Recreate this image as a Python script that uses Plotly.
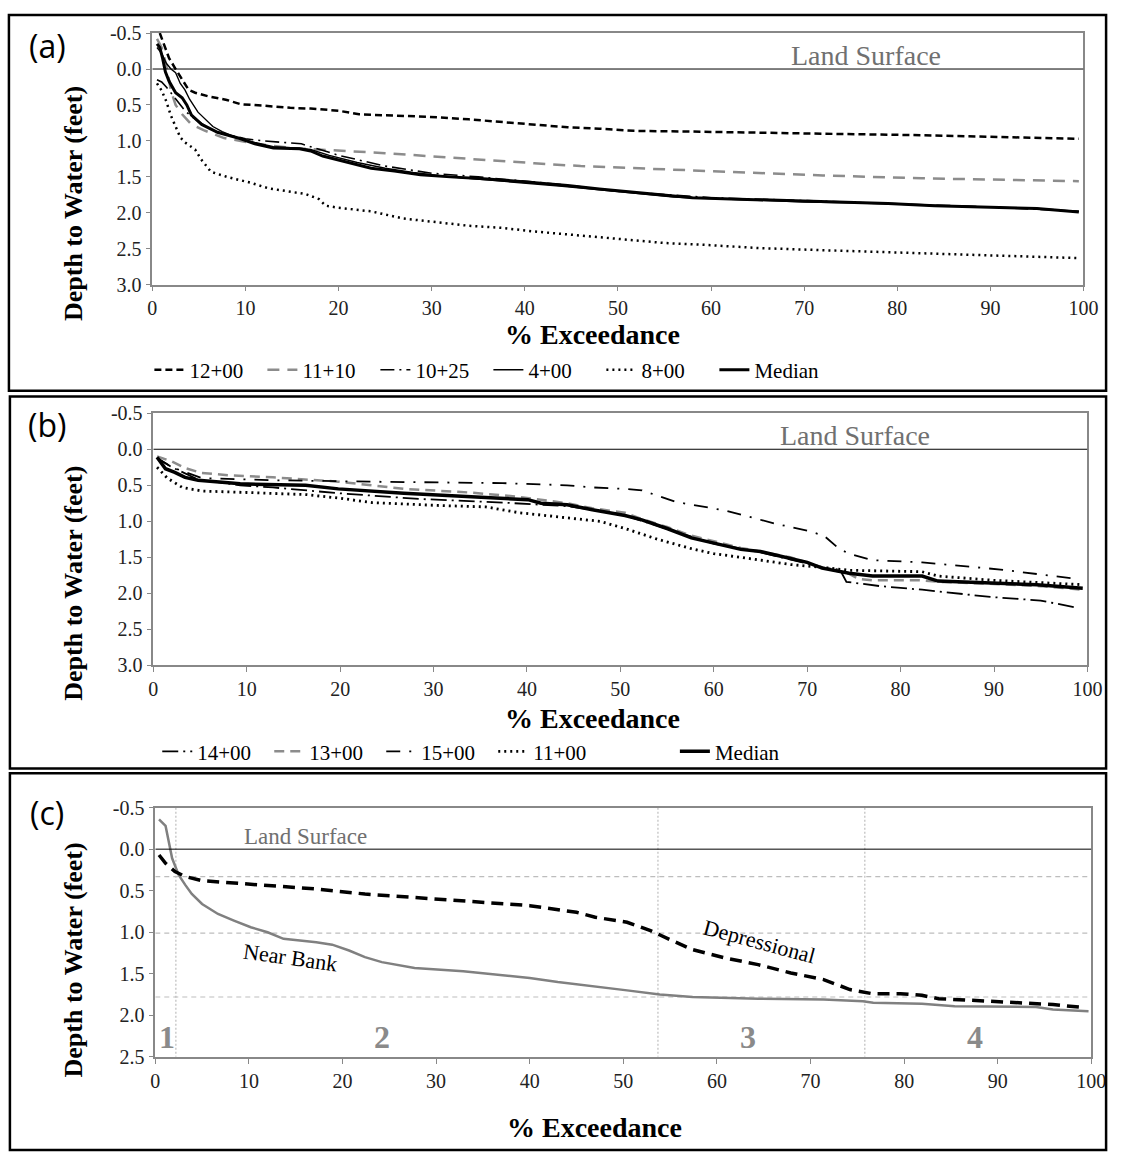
import plotly.graph_objects as go

W, H = 1126, 1162
def px(x): return x / W
def py(y): return 1 - y / H

# ---------------- Panel (a) data ----------------
a_12_00_x = [0.8, 1.2, 1.8, 2.5, 3.2, 3.9, 4.6, 6.0, 8.0, 9.5, 12, 14.8, 17, 20, 22.2, 26, 30.6, 34, 37.6, 41, 44.6, 48, 51.7, 58, 65, 72, 82.6, 90, 95, 99.5]
a_12_00_y = [-0.5, -0.35, -0.15, 0.0, 0.15, 0.29, 0.33, 0.38, 0.43, 0.49, 0.51, 0.54, 0.55, 0.58, 0.63, 0.65, 0.67, 0.70, 0.74, 0.78, 0.81, 0.83, 0.86, 0.87, 0.88, 0.90, 0.92, 0.94, 0.95, 0.97]

a_11_10_x = [0.5, 1.0, 1.5, 2.0, 2.5, 3.2, 4.2, 5.5, 7.7, 9, 11.2, 15, 20, 25, 30.6, 36, 41, 46, 51.7, 58, 65, 72, 82.6, 90, 99.5]
a_11_10_y = [-0.42, -0.3, -0.05, 0.3, 0.5, 0.63, 0.77, 0.85, 0.96, 0.99, 1.04, 1.1, 1.13, 1.17, 1.22, 1.27, 1.31, 1.35, 1.38, 1.41, 1.45, 1.48, 1.52, 1.54, 1.56]

a_10_25_x = [0.5, 1.0, 1.5, 2.0, 2.5, 3.0, 3.5, 4.2, 5, 6, 7, 8.5, 10, 12, 14, 16, 18, 20, 25, 30, 35, 40, 45, 50, 55, 60, 70, 80, 90, 99.5]
a_10_25_y = [0.15, 0.18, 0.25, 0.33, 0.42, 0.5, 0.58, 0.66, 0.73, 0.82, 0.88, 0.93, 0.97, 1.0, 1.02, 1.04, 1.12, 1.2, 1.35, 1.45, 1.5, 1.56, 1.62, 1.7, 1.75, 1.79, 1.83, 1.87, 1.92, 1.98]

a_4_00_x = [0.5, 1.0, 1.5, 2.0, 2.5, 3.0, 3.5, 4.0, 4.9, 5.5, 6.5, 7.5, 9, 11, 13, 15.8, 17, 19, 22, 25, 28, 32, 36, 40, 44, 48, 52, 56, 60, 65, 70, 75, 80, 85, 90, 95, 99.5]
a_4_00_y = [-0.3, -0.22, -0.08, 0.0, 0.05, 0.2, 0.29, 0.42, 0.6, 0.68, 0.8, 0.87, 0.95, 1.02, 1.08, 1.1, 1.12, 1.2, 1.3, 1.38, 1.44, 1.5, 1.54, 1.58, 1.63, 1.68, 1.73, 1.78, 1.8, 1.83, 1.85, 1.86, 1.88, 1.9, 1.92, 1.94, 1.98]

a_8_00_x = [0.5, 1.0, 1.5, 2.0, 2.5, 3.0, 3.5, 4.6, 5.2, 6.3, 8, 10.5, 12.5, 14.8, 16.5, 17.9, 18.6, 20, 23.5, 27, 30.6, 34, 37.6, 41, 44.6, 48, 51, 55, 60, 65, 72, 82.6, 90, 99.5]
a_8_00_y = [0.2, 0.3, 0.45, 0.65, 0.8, 0.95, 1.02, 1.12, 1.25, 1.43, 1.5, 1.58, 1.66, 1.7, 1.74, 1.81, 1.9, 1.93, 1.98, 2.08, 2.13, 2.18, 2.21, 2.26, 2.3, 2.34, 2.38, 2.42, 2.45, 2.49, 2.52, 2.56, 2.59, 2.63]

a_med_x = [0.5, 0.8, 1.1, 1.4, 1.8, 2.5, 3.2, 3.7, 4.2, 5.3, 7, 9.5, 11, 13, 15.8, 17, 18.3, 21, 23.5, 26, 28.8, 32, 36, 41.1, 44.6, 48, 52, 55, 58, 63, 68.6, 74, 79, 84, 89.7, 95, 99.5]
a_med_y = [-0.35, -0.3, -0.15, 0.04, 0.17, 0.33, 0.4, 0.5, 0.64, 0.77, 0.88, 0.97, 1.04, 1.1, 1.11, 1.14, 1.21, 1.3, 1.38, 1.42, 1.47, 1.5, 1.53, 1.58, 1.62, 1.67, 1.72, 1.75, 1.79, 1.81, 1.83, 1.85, 1.87, 1.9, 1.92, 1.94, 1.99]

# ---------------- Panel (b) data ----------------
b_14_00_x = [0.4, 2, 4.8, 9.3, 12.8, 19.8, 28.5, 37.4, 44.3, 47, 50.5, 55, 60, 65, 70, 72, 73.5, 74.2, 77.8, 82.3, 89.6, 95, 98.9]
b_14_00_y = [0.12, 0.25, 0.42, 0.5, 0.53, 0.61, 0.69, 0.74, 0.79, 0.84, 0.92, 1.1, 1.31, 1.43, 1.58, 1.65, 1.67, 1.84, 1.9, 1.95, 2.05, 2.1, 2.2]

b_13_00_x = [0.4, 2, 3.4, 5.2, 8, 12.8, 19.8, 23, 26.8, 33.8, 39.1, 44.3, 47, 50.5, 52.3, 55, 57.6, 62.9, 68.2, 71.6, 74.5, 75.5, 77, 82.3, 84, 90, 95, 99.5]
b_13_00_y = [0.1, 0.17, 0.26, 0.33, 0.36, 0.39, 0.45, 0.5, 0.55, 0.6, 0.66, 0.75, 0.82, 0.88, 0.97, 1.08, 1.2, 1.37, 1.5, 1.64, 1.73, 1.8, 1.82, 1.82, 1.84, 1.87, 1.9, 1.95]

b_15_00_x = [0.4, 2, 5.2, 12.8, 23.4, 30.4, 37.4, 44.3, 47, 50.5, 52.3, 55.9, 61.2, 66.5, 70, 71.8, 73.4, 74.5, 77, 82.3, 90.7, 98.9]
b_15_00_y = [0.12, 0.25, 0.4, 0.43, 0.45, 0.46, 0.47, 0.5, 0.53, 0.55, 0.57, 0.73, 0.85, 1.03, 1.13, 1.2, 1.38, 1.45, 1.54, 1.57, 1.67, 1.8]

b_11_00_x = [0.4, 1.5, 3.1, 5.2, 10, 16.4, 20, 23.4, 30.4, 35.6, 39.1, 44.3, 47.8, 50.5, 54, 57.6, 60, 62.9, 68.2, 72.4, 74.5, 82.3, 84, 90, 95, 99.5]
b_11_00_y = [0.25, 0.4, 0.53, 0.58, 0.6, 0.63, 0.68, 0.74, 0.78, 0.8, 0.88, 0.95, 1.0, 1.1, 1.25, 1.38, 1.45, 1.5, 1.6, 1.65, 1.68, 1.7, 1.76, 1.82, 1.85, 1.88]

b_med_x = [0.4, 0.8, 1.3, 2.3, 3.4, 4.8, 9.3, 16.3, 19.8, 26.8, 33.8, 40.1, 41.5, 44.3, 47, 50.5, 52.3, 55, 57.6, 60, 62.9, 65, 68.2, 70, 71.6, 74.5, 77, 82.3, 84, 90, 94.6, 99.5]
b_med_y = [0.11, 0.18, 0.27, 0.32, 0.39, 0.43, 0.48, 0.5, 0.55, 0.61, 0.66, 0.7, 0.75, 0.77, 0.84, 0.92, 0.98, 1.1, 1.23, 1.3, 1.39, 1.42, 1.51, 1.57, 1.65, 1.72, 1.76, 1.76, 1.83, 1.86, 1.88, 1.93]

# ---------------- Panel (c) data ----------------
c_near_x = [0.4, 1.1, 1.8, 2.5, 3.2, 3.9, 5, 6.7, 8.4, 10.2, 12, 13.7, 17.2, 18.9, 20.7, 22.4, 24.2, 25.9, 27.7, 32.9, 36.4, 40, 43, 47, 50.4, 53.9, 57.4, 64.4, 71.4, 75.6, 76.7, 81.9, 85.4, 94.1, 95.9, 99.7]
c_near_y = [-0.36, -0.28, 0.11, 0.31, 0.43, 0.54, 0.66, 0.78, 0.86, 0.94, 1.0, 1.08, 1.12, 1.15, 1.22, 1.3, 1.36, 1.39, 1.43, 1.47, 1.51, 1.55, 1.6, 1.65, 1.7, 1.75, 1.78, 1.8, 1.81, 1.83, 1.85, 1.86, 1.89, 1.9, 1.93, 1.95]

c_dep_x = [0.4, 1.1, 2.1, 3.2, 5, 12, 17.2, 22.4, 30, 40, 45, 47, 50.4, 52.9, 55, 57.4, 60.9, 64.4, 67.9, 71.4, 74.2, 76.6, 79.6, 81.9, 83.7, 87.2, 92.4, 95.9, 99.4]
c_dep_y = [0.07, 0.17, 0.27, 0.33, 0.38, 0.44, 0.48, 0.54, 0.6, 0.68, 0.76, 0.82, 0.88, 0.98, 1.09, 1.21, 1.31, 1.39, 1.49, 1.57, 1.69, 1.74, 1.74, 1.76, 1.8, 1.82, 1.84, 1.87, 1.91]

c_thresh_y = [0.33, 1.01, 1.78]
c_thresh_x = [2.2, 53.7, 75.8]
c_zone_labels = ["1", "2", "3", "4"]
c_zone_x = [1.2, 24.2, 63.3, 87.6]
c_zone_y = 2.26

x_ticks = [0, 10, 20, 30, 40, 50, 60, 70, 80, 90, 100]
y_ticks_ab = [-0.5, 0.0, 0.5, 1.0, 1.5, 2.0, 2.5, 3.0]
y_ticks_ab_text = ["-0.5", "0.0", "0.5", "1.0", "1.5", "2.0", "2.5", "3.0"]
y_ticks_c = [-0.5, 0.0, 0.5, 1.0, 1.5, 2.0, 2.5]
y_ticks_c_text = ["-0.5", "0.0", "0.5", "1.0", "1.5", "2.0", "2.5"]

SERIF = "Liberation Serif"
BLACK = "#000000"
GRAY = "#8c8c8c"

fig = go.Figure()

def add(x, y, name, color, width, dash, xa, ya, legend=None, show=True):
    fig.add_trace(go.Scatter(
        x=x, y=y, name=name, mode="lines",
        line=dict(color=color, width=width, dash=dash),
        xaxis=xa, yaxis=ya, legend=legend, showlegend=show))

add(a_12_00_x, a_12_00_y, "12+00", BLACK, 2.5, "7px,4px", "x", "y", "legend")
add(a_11_10_x, a_11_10_y, "11+10", GRAY, 2.5, "12px,8px", "x", "y", "legend")
add(a_10_25_x, a_10_25_y, "10+25", BLACK, 1.6, "14px,5px,2px,5px", "x", "y", "legend")
add(a_4_00_x, a_4_00_y, "4+00", BLACK, 1.4, "solid", "x", "y", "legend")
add(a_8_00_x, a_8_00_y, "8+00", BLACK, 2.5, "2px,4px", "x", "y", "legend")
add(a_med_x, a_med_y, "Median", BLACK, 3, "solid", "x", "y", "legend")

add(b_14_00_x, b_14_00_y, "14+00", BLACK, 1.8, "16px,5px,2px,5px", "x2", "y2", "legend2")
add(b_13_00_x, b_13_00_y, "13+00", GRAY, 2.5, "10px,6px", "x2", "y2", "legend2")
add(b_15_00_x, b_15_00_y, "15+00", BLACK, 1.8, "14px,9px,2px,9px", "x2", "y2", "legend2")
add(b_11_00_x, b_11_00_y, "11+00", BLACK, 2.8, "2px,4px", "x2", "y2", "legend2")
add(b_med_x, b_med_y, "Median", BLACK, 3.5, "solid", "x2", "y2", "legend3")

add(c_near_x, c_near_y, "Near Bank", "#808080", 2.5, "solid", "x3", "y3", show=False)
add(c_dep_x, c_dep_y, "Depressional", BLACK, 3.5, "12px,7px", "x3", "y3", show=False)

axis_common = dict(showline=True, linecolor="#888888", linewidth=1.5, mirror=True,
                   ticks="outside", ticklen=5, tickcolor="#888888", showgrid=False,
                   zeroline=False, tickfont=dict(family=SERIF, size=20, color="#222222"))

xa_dom = [px(150), px(1098)]
xb_dom = [px(151), px(1102)]
xc_dom = [px(153), px(1106)]
ya_dom = [py(279), py(22.5)]
yb_dom = [py(667), py(410)]
yc_dom = [py(1066), py(812)]

leg_common = dict(orientation="h", xanchor="left", yanchor="middle",
                  font=dict(family=SERIF, size=21, color="#000"), bgcolor="rgba(0,0,0,0)",
                  entrywidthmode="pixels", itemwidth=30, tracegroupgap=0)

fig.update_layout(
    width=W, height=H, margin=dict(l=0, r=0, t=0, b=0),
    paper_bgcolor="white", plot_bgcolor="white",
    xaxis=dict(domain=xa_dom, anchor="y", range=[0, 100], tickvals=x_ticks, **axis_common),
    yaxis=dict(domain=ya_dom, anchor="x", range=[3.0, -0.5], tickvals=y_ticks_ab, ticktext=y_ticks_ab_text, **axis_common),
    xaxis2=dict(domain=xb_dom, anchor="y2", range=[0, 100], tickvals=x_ticks, **axis_common),
    yaxis2=dict(domain=yb_dom, anchor="x2", range=[3.0, -0.5], tickvals=y_ticks_ab, ticktext=y_ticks_ab_text, **axis_common),
    xaxis3=dict(domain=xc_dom, anchor="y3", range=[0, 100], tickvals=x_ticks, **axis_common),
    yaxis3=dict(domain=yc_dom, anchor="x3", range=[2.5, -0.5], tickvals=y_ticks_c, ticktext=y_ticks_c_text, **axis_common),
    legend=dict(x=px(147), y=py(366), entrywidth=68, **leg_common),
    legend2=dict(x=px(155), y=py(755), entrywidth=67, **leg_common),
    legend3=dict(x=px(682), y=py(755), entrywidth=67, **leg_common),
    showlegend=True,
)

shapes = []
for xr, yr in (("x", "y"), ("x2", "y2"), ("x3", "y3")):
    shapes.append(dict(type="line", xref=xr, yref=yr, x0=0, x1=100, y0=0, y1=0,
                       line=dict(color="black", width=1), layer="above"))
for ty in c_thresh_y:
    shapes.append(dict(type="line", xref="x3", yref="y3", x0=0, x1=100, y0=ty, y1=ty,
                       line=dict(color="#bdbdbd", width=1.2, dash="5px,4px"), layer="below"))
for tx in c_thresh_x:
    shapes.append(dict(type="line", xref="x3", yref="y3", x0=tx, x1=tx, y0=-0.5, y1=2.5,
                       line=dict(color="#bdbdbd", width=1.2, dash="2px,2px"), layer="below"))
for (x0, y0, x1, y1) in ((4, 4, 1121, 387), (5, 393, 1121, 772), (5, 777, 1121, 1161)):
    shapes.append(dict(type="rect", xref="paper", yref="paper", x0=px(x0), x1=px(x1),
                       y0=py(y1), y1=py(y0), line=dict(color="black", width=2.5)))
fig.update_layout(shapes=shapes)

ann = []
tfont = dict(family=SERIF, size=28, color="black")
for cx, cy in ((598, 330), (598, 721), (600, 1138)):
    ann.append(dict(text="<b>% Exceedance</b>", xref="paper", yref="paper", x=px(cx), y=py(cy),
                    showarrow=False, font=tfont, xanchor="center", yanchor="middle"))
yfont = dict(family=SERIF, size=26, color="black")
for cy in (196, 583, 967):
    ann.append(dict(text="<b>Depth to Water (feet)</b>", xref="paper", yref="paper", x=px(70), y=py(cy),
                    showarrow=False, font=yfont, textangle=-90, xanchor="center", yanchor="middle"))
for lab, cy in (("(a)", 35), ("(b)", 421), ("(c)", 817)):
    ann.append(dict(text=lab, xref="paper", yref="paper", x=px(43), y=py(cy), showarrow=False,
                    font=dict(family="Open Sans", size=32, color="black"),
                    xanchor="center", yanchor="middle"))
lsfont_big = dict(family=SERIF, size=28, color="#707070")
ann.append(dict(text="Land Surface", xref="x", yref="y", x=76.6, y=-0.19, showarrow=False,
                font=lsfont_big, xanchor="center", yanchor="middle"))
ann.append(dict(text="Land Surface", xref="x2", yref="y2", x=75.1, y=-0.19, showarrow=False,
                font=lsfont_big, xanchor="center", yanchor="middle"))
ann.append(dict(text="Land Surface", xref="x3", yref="y3", x=16.1, y=-0.15, showarrow=False,
                font=dict(family=SERIF, size=23, color="#707070"), xanchor="center", yanchor="middle"))
ann.append(dict(text="Near Bank", xref="x3", yref="y3", x=14.4, y=1.31, showarrow=False,
                font=dict(family=SERIF, size=22, color="black"), textangle=8,
                xanchor="center", yanchor="middle"))
ann.append(dict(text="Depressional", xref="x3", yref="y3", x=64.5, y=1.11, showarrow=False,
                font=dict(family=SERIF, size=22, color="black"), textangle=15,
                xanchor="center", yanchor="middle"))
for lab, zx in zip(c_zone_labels, c_zone_x):
    ann.append(dict(text="<b>%s</b>" % lab, xref="x3", yref="y3", x=zx, y=c_zone_y, showarrow=False,
                    font=dict(family=SERIF, size=32, color="#8a8a8a"), xanchor="center", yanchor="middle"))
fig.update_layout(annotations=ann)

fig.write_html("out.html")
